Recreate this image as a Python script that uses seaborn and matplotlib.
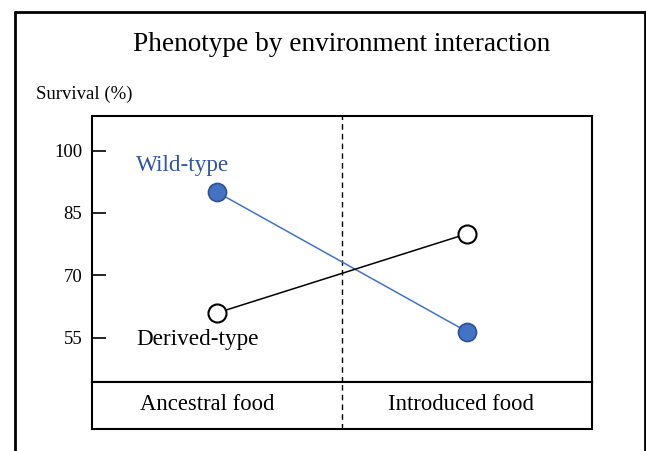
import matplotlib
matplotlib.use("Agg")
import matplotlib.pyplot as plt
import seaborn as sns
import pandas as pd

# ---- data ----
environments = ["Ancestral food", "Introduced food"]
wild_type = [90.0, 56.5]
derived_type = [61.0, 80.0]
series_names = ["Wild-type", "Derived-type"]
y_ticks = [55, 70, 85, 100]
title = "Phenotype by environment interaction"
y_label = "Survival (%)"

sns.set_theme(style="white")
plt.rcParams["font.family"] = ["Liberation Serif", "DejaVu Serif"]

W, H = 646, 451
fig = plt.figure(figsize=(W / 100, H / 100), dpi=100)

def fx(px):
    return px / W

def fy(py):
    return 1 - py / H

# outer frame (left, top, right)
fig.add_artist(plt.Line2D([fx(15), fx(15)], [0, fy(12)], color="black", lw=2, transform=fig.transFigure))
fig.add_artist(plt.Line2D([fx(15), fx(645)], [fy(12), fy(12)], color="black", lw=2, transform=fig.transFigure))
fig.add_artist(plt.Line2D([fx(645), fx(645)], [0, fy(12)], color="black", lw=2, transform=fig.transFigure))

left, right, top, mid, bottom = 92, 592, 116, 382, 429
ax = fig.add_axes([fx(left), fy(mid), fx(right - left), (mid - top) / H])
axb = fig.add_axes([fx(left), fy(bottom), fx(right - left), (bottom - mid) / H], sharex=ax)

df_w = pd.DataFrame({"env": environments, "val": wild_type})
df_d = pd.DataFrame({"env": environments, "val": derived_type})

sns.lineplot(data=df_w, x="env", y="val", ax=ax, color="#4472C4", lw=1.1,
             marker="o", markersize=13, markerfacecolor="#4472C4",
             markeredgecolor="#2F528F", markeredgewidth=1.2, zorder=3)
sns.lineplot(data=df_d, x="env", y="val", ax=ax, color="black", lw=1.1,
             marker="o", markersize=13, markerfacecolor="white",
             markeredgecolor="black", markeredgewidth=1.5, zorder=3)

ax.set_xlim(-0.5, 1.5)
ax.set_ylim(44.4, 108.3)
ax.set_yticks(y_ticks)
ax.set_yticklabels([str(t) for t in y_ticks], fontsize=13.5)
ax.tick_params(axis="y", direction="in", length=10, width=1.2, pad=7, colors="black", left=True)
ax.tick_params(axis="x", bottom=False, labelbottom=False)
ax.set_xlabel("")
ax.set_ylabel("")
for s in ax.spines.values():
    s.set_color("black")
    s.set_linewidth(1.5)
ax.axvline(0.5, color="black", lw=1, ls=(0, (4, 3)))

ax.text(-0.323, 95.2, series_names[0], color="#2F55A0", fontsize=16.7, ha="left", va="baseline")
ax.text(-0.323, 53.4, series_names[1], color="black", fontsize=16.7, ha="left", va="baseline")

axb.set_ylim(0, 1)
axb.set_yticks([])
axb.set_xticks([])
for s in axb.spines.values():
    s.set_color("black")
    s.set_linewidth(1.5)
axb.axvline(0.5, color="black", lw=1, ls=(0, (4, 3)))
label_offsets = [-0.04, -0.024]
for i, e in enumerate(environments):
    axb.text(i + label_offsets[i], 0.40, e, ha="center", va="baseline", fontsize=16.3, color="black")

fig.text(fx(342), fy(50.7), title, ha="center", va="baseline", fontsize=19.6, color="black")
fig.text(fx(36), fy(99), y_label, ha="left", va="baseline", fontsize=13.5, color="black")

fig.savefig("out.png", dpi=100)
